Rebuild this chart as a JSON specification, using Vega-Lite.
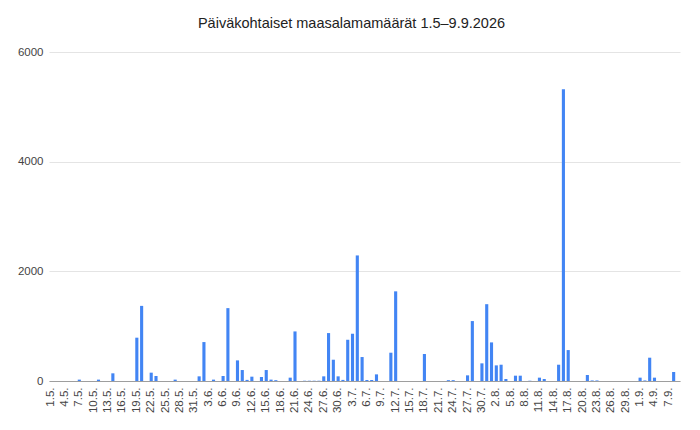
{
  "$schema": "https://vega.github.io/schema/vega-lite/v6.json",
  "width": 631,
  "height": 329,
  "autosize": {"type": "none"},
  "padding": {"left": 49, "top": 52, "right": 20, "bottom": 49},
  "background": "white",
  "title": {"text": "Päiväkohtaiset maasalamamäärät 1.5–9.9.2026", "font": "Liberation Sans", "fontSize": 14.5, "fontWeight": "normal", "color": "#222222", "anchor": "middle", "offset": 15, "dx": -13},
  "data": {"values": [
    {"pvm": "1.5.", "n": 0}, {"pvm": "2.5.", "n": 0}, {"pvm": "3.5.", "n": 0}, {"pvm": "4.5.", "n": 0}, {"pvm": "5.5.", "n": 0},
    {"pvm": "6.5.", "n": 0}, {"pvm": "7.5.", "n": 25}, {"pvm": "8.5.", "n": 0}, {"pvm": "9.5.", "n": 0}, {"pvm": "10.5.", "n": 0},
    {"pvm": "11.5.", "n": 25}, {"pvm": "12.5.", "n": 0}, {"pvm": "13.5.", "n": 0}, {"pvm": "14.5.", "n": 140}, {"pvm": "15.5.", "n": 0},
    {"pvm": "16.5.", "n": 0}, {"pvm": "17.5.", "n": 0}, {"pvm": "18.5.", "n": 0}, {"pvm": "19.5.", "n": 790}, {"pvm": "20.5.", "n": 1370},
    {"pvm": "21.5.", "n": 0}, {"pvm": "22.5.", "n": 152}, {"pvm": "23.5.", "n": 91}, {"pvm": "24.5.", "n": 0}, {"pvm": "25.5.", "n": 0},
    {"pvm": "26.5.", "n": 0}, {"pvm": "27.5.", "n": 25}, {"pvm": "28.5.", "n": 0}, {"pvm": "29.5.", "n": 0}, {"pvm": "30.5.", "n": 0},
    {"pvm": "31.5.", "n": 0},
    {"pvm": "1.6.", "n": 85}, {"pvm": "2.6.", "n": 710}, {"pvm": "3.6.", "n": 0}, {"pvm": "4.6.", "n": 25}, {"pvm": "5.6.", "n": 0},
    {"pvm": "6.6.", "n": 91}, {"pvm": "7.6.", "n": 1329}, {"pvm": "8.6.", "n": 0}, {"pvm": "9.6.", "n": 376}, {"pvm": "10.6.", "n": 200},
    {"pvm": "11.6.", "n": 20}, {"pvm": "12.6.", "n": 79}, {"pvm": "13.6.", "n": 0}, {"pvm": "14.6.", "n": 73}, {"pvm": "15.6.", "n": 200},
    {"pvm": "16.6.", "n": 25}, {"pvm": "17.6.", "n": 15}, {"pvm": "18.6.", "n": 0}, {"pvm": "19.6.", "n": 0}, {"pvm": "20.6.", "n": 61},
    {"pvm": "21.6.", "n": 904}, {"pvm": "22.6.", "n": 0}, {"pvm": "23.6.", "n": 5}, {"pvm": "24.6.", "n": 5}, {"pvm": "25.6.", "n": 5},
    {"pvm": "26.6.", "n": 5}, {"pvm": "27.6.", "n": 85}, {"pvm": "28.6.", "n": 874}, {"pvm": "29.6.", "n": 388}, {"pvm": "30.6.", "n": 85},
    {"pvm": "1.7.", "n": 20}, {"pvm": "2.7.", "n": 752}, {"pvm": "3.7.", "n": 862}, {"pvm": "4.7.", "n": 2290}, {"pvm": "5.7.", "n": 437},
    {"pvm": "6.7.", "n": 18}, {"pvm": "7.7.", "n": 18}, {"pvm": "8.7.", "n": 121}, {"pvm": "9.7.", "n": 0}, {"pvm": "10.7.", "n": 0},
    {"pvm": "11.7.", "n": 516}, {"pvm": "12.7.", "n": 1635}, {"pvm": "13.7.", "n": 0}, {"pvm": "14.7.", "n": 0}, {"pvm": "15.7.", "n": 0},
    {"pvm": "16.7.", "n": 0}, {"pvm": "17.7.", "n": 0}, {"pvm": "18.7.", "n": 492}, {"pvm": "19.7.", "n": 0}, {"pvm": "20.7.", "n": 0},
    {"pvm": "21.7.", "n": 0}, {"pvm": "22.7.", "n": 0}, {"pvm": "23.7.", "n": 15}, {"pvm": "24.7.", "n": 15}, {"pvm": "25.7.", "n": 0},
    {"pvm": "26.7.", "n": 0}, {"pvm": "27.7.", "n": 103}, {"pvm": "28.7.", "n": 1093}, {"pvm": "29.7.", "n": 0}, {"pvm": "30.7.", "n": 322},
    {"pvm": "31.7.", "n": 1401},
    {"pvm": "1.8.", "n": 704}, {"pvm": "2.8.", "n": 285}, {"pvm": "3.8.", "n": 297}, {"pvm": "4.8.", "n": 36}, {"pvm": "5.8.", "n": 0},
    {"pvm": "6.8.", "n": 97}, {"pvm": "7.8.", "n": 97}, {"pvm": "8.8.", "n": 0}, {"pvm": "9.8.", "n": 5}, {"pvm": "10.8.", "n": 0},
    {"pvm": "11.8.", "n": 61}, {"pvm": "12.8.", "n": 36}, {"pvm": "13.8.", "n": 0}, {"pvm": "14.8.", "n": 0}, {"pvm": "15.8.", "n": 297},
    {"pvm": "16.8.", "n": 5320}, {"pvm": "17.8.", "n": 564}, {"pvm": "18.8.", "n": 0}, {"pvm": "19.8.", "n": 0}, {"pvm": "20.8.", "n": 0},
    {"pvm": "21.8.", "n": 109}, {"pvm": "22.8.", "n": 10}, {"pvm": "23.8.", "n": 10}, {"pvm": "24.8.", "n": 0}, {"pvm": "25.8.", "n": 0},
    {"pvm": "26.8.", "n": 0}, {"pvm": "27.8.", "n": 0}, {"pvm": "28.8.", "n": 0}, {"pvm": "29.8.", "n": 0}, {"pvm": "30.8.", "n": 0},
    {"pvm": "31.8.", "n": 0},
    {"pvm": "1.9.", "n": 61}, {"pvm": "2.9.", "n": 10}, {"pvm": "3.9.", "n": 425}, {"pvm": "4.9.", "n": 61}, {"pvm": "5.9.", "n": 0},
    {"pvm": "6.9.", "n": 0}, {"pvm": "7.9.", "n": 0}, {"pvm": "8.9.", "n": 164}, {"pvm": "9.9.", "n": 0}
  ]},
  "mark": {"type": "bar", "color": "#4285F4"},
  "encoding": {
    "x": {
      "field": "pvm", "type": "ordinal", "sort": null,
      "scale": {"paddingInner": 0.35, "paddingOuter": 0},
      "axis": {
        "title": null,
        "values": ["1.5.", "4.5.", "7.5.", "10.5.", "13.5.", "16.5.", "19.5.", "22.5.", "25.5.", "28.5.", "31.5.",
                   "3.6.", "6.6.", "9.6.", "12.6.", "15.6.", "18.6.", "21.6.", "24.6.", "27.6.", "30.6.",
                   "3.7.", "6.7.", "9.7.", "12.7.", "15.7.", "18.7.", "21.7.", "24.7.", "27.7.", "30.7.",
                   "2.8.", "5.8.", "8.8.", "11.8.", "14.8.", "17.8.", "20.8.", "23.8.", "26.8.", "29.8.",
                   "1.9.", "4.9.", "7.9."],
        "labelAngle": -90,
        "labelFont": "Liberation Sans",
        "labelFontSize": 11.5,
        "labelColor": "#444444",
        "labelPadding": 6,
        "ticks": false,
        "grid": false,
        "domainColor": "#9e9e9e",
        "labelOverlap": false
      }
    },
    "y": {
      "field": "n", "type": "quantitative",
      "scale": {"domain": [0, 6000], "nice": false},
      "axis": {
        "title": null,
        "values": [0, 2000, 4000, 6000],
        "format": "d",
        "labelFont": "Liberation Sans",
        "labelFontSize": 11.5,
        "labelColor": "#444444",
        "labelPadding": 6,
        "ticks": false,
        "domain": false,
        "grid": true,
        "gridColor": "#e4e4e4"
      }
    }
  },
  "config": {"view": {"stroke": null}}
}
